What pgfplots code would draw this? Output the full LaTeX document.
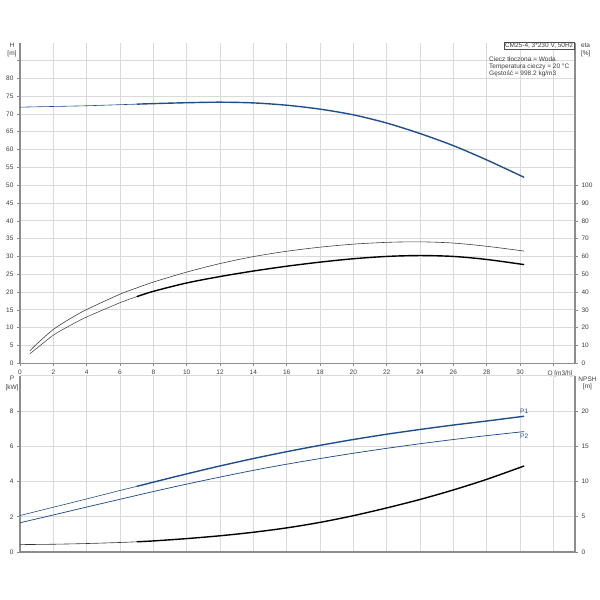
\documentclass[border=0pt]{standalone}
\usepackage{fontspec}
\setmainfont{Liberation Sans}
\usepackage{pgfplots}
\pgfplotsset{compat=1.18}
\definecolor{gridc}{RGB}{218,218,218}
\definecolor{axc}{RGB}{140,140,140}
\definecolor{pblue}{RGB}{32,78,140}
\definecolor{tcol}{RGB}{60,60,60}
\begin{document}
\begin{tikzpicture}
\path[use as bounding box] (0pt,0pt) rectangle (600pt,600pt);
\pgfplotsset{
  every axis/.append style={
    scale only axis, width=555pt,
    xmin=0, xmax=33.3,
    font=\fontsize{6.5}{7.3}\selectfont,
    /pgf/number format/assume math mode=true,
    tick label style={font=\fontsize{6.5}{7.3}\selectfont, text=tcol},
    axis line style={axc, line width=1.5pt},
    grid style={gridc, line width=0.8pt},
    tick style={axc, line width=0.6pt},
    major tick length=3pt,
    tick align=outside,
    clip=false,
  },
  thinl/.style={line width=0.6pt, smooth},
  thickl/.style={line width=1.4pt, smooth},
}
% ---------------- top: H and eta ----------------
\begin{axis}[at={(20pt,236.7pt)}, anchor=south west, height=320.6pt,
  ymin=0, ymax=90,
  axis x line*=bottom, axis y line*=left,
  xtick={0,2,...,32},
  xticklabels={0,2,4,6,8,10,12,14,16,18,20,22,24,26,28,30,},
  ytick={0,5,...,85},
  yticklabels={0,5,10,15,20,25,30,35,40,45,50,55,60,65,70,75,80,},
  xmajorgrids, ymajorgrids,
]
\addplot[pblue, thinl] coordinates {(0,71.9) (2,72.1) (4,72.3) (6,72.6) (7,72.75)};
\addplot[pblue, thickl] coordinates {(7,72.75) (8,72.9) (10,73.15) (12,73.3) (14,73.1) (16,72.45) (18,71.35) (20,69.75) (22,67.45) (24,64.5) (26,61.1) (28,57.1) (30.25,52.2)};
\node[anchor=north, text=tcol, inner sep=0pt] at (axis cs:32.4,-2.1) {Q [m3/h]};
\end{axis}
\begin{axis}[at={(20pt,236.7pt)}, anchor=south west, height=320.6pt,
  ymin=0, ymax=180,
  axis x line=none, axis y line*=right,
  ytick={0,10,...,100},
]
\addplot[black!75, thinl] coordinates {(0.6,7.0) (1,10.8) (2,19.0) (3,25.0) (4,30.2) (6,38.8) (7,42.3) (8,45.6) (10,51.2) (12,56.0) (14,59.9) (16,62.9) (18,65.2) (20,66.9) (22,67.9) (24,68.2) (26,67.5) (28,65.7) (30.25,63.0)};
\addplot[black!70, thinl] coordinates {(0.6,5.4) (1,8.4) (2,15.8) (3,21.2) (4,26.0) (6,34.0) (7,37.4)};
\addplot[black, thickl] coordinates {(7,37.4) (8,40.4) (10,45.1) (12,48.7) (14,51.8) (16,54.5) (18,56.8) (20,58.7) (22,60.0) (24,60.5) (26,60.0) (28,58.3) (30.25,55.4)};
\end{axis}
% ---------------- bottom: P and NPSH ----------------
\begin{axis}[at={(20pt,48pt)}, anchor=south west, height=176.3pt,
  ymin=0, ymax=10,
  axis x line*=bottom, axis y line*=left,
  xtick={0,2,...,32}, xticklabels={}, x tick style={draw=none},
  ytick={0,2,...,8},
  xmajorgrids, ymajorgrids,
]
\draw[gridc, line width=0.8pt] (rel axis cs:0,1) -- (rel axis cs:1,1);
\addplot[pblue, thinl] coordinates {(0,2.07) (2,2.54) (4,3.01) (6,3.49) (7,3.72)};
\addplot[pblue, thickl] coordinates {(7,3.72) (8,3.96) (10,4.43) (12,4.88) (14,5.3) (16,5.69) (18,6.05) (20,6.38) (22,6.68) (24,6.95) (26,7.2) (28,7.43) (30.25,7.70)};
\addplot[pblue, line width=0.75pt, smooth] coordinates {(0,1.66) (2,2.1) (4,2.55) (6,2.99) (8,3.43) (10,3.85) (12,4.25) (14,4.63) (16,4.98) (18,5.3) (20,5.6) (22,5.88) (24,6.14) (26,6.38) (28,6.6) (30.25,6.83)};
\node[text=pblue, inner sep=0pt] at (axis cs:30.25,7.97) {P1};
\node[text=pblue, inner sep=0pt] at (axis cs:30.25,6.55) {P2};
\end{axis}
\begin{axis}[at={(20pt,48pt)}, anchor=south west, height=176.3pt,
  ymin=0, ymax=25,
  axis x line=none, axis y line*=right,
  ytick={0,5,...,20},
]
\addplot[black!80, thinl] coordinates {(0,1.05) (2,1.1) (4,1.2) (6,1.35) (7,1.45)};
\addplot[black, thickl] coordinates {(7,1.45) (8,1.57) (10,1.9) (12,2.3) (14,2.8) (16,3.42) (18,4.2) (20,5.15) (22,6.25) (24,7.45) (26,8.8) (28,10.3) (30.25,12.2)};
\end{axis}
% ---------------- labels ----------------
\begin{scope}[font=\fontsize{6.5}{7.3}\selectfont, text=tcol]
\node at (12pt,555pt) {H};
\node at (12pt,546pt) {[m]};
\node[anchor=west] at (577.5pt,554.3pt) {eta};
\node[anchor=west] at (577.5pt,546pt) {[\%]};
\node at (12pt,222pt) {P};
\node at (12pt,212.5pt) {[kW]};
\node at (587.5pt,221pt) {NPSH};
\node at (587.5pt,212.7pt) {[m]};
\node[draw=black!70, line width=0.5pt, fill=white, anchor=north east, inner xsep=1.2pt, inner ysep=0.6pt] at (574.5pt,557.5pt) {CM25-4, 3*230 V, 50Hz};
\node[anchor=north west, align=left, inner sep=0pt, text=tcol] at (489pt,543.6pt) {Ciecz tłoczona = Woda\\Temperatura cieczy = 20 °C\\Gęstość = 998.2 kg/m3};
\end{scope}
\end{tikzpicture}
\end{document}
